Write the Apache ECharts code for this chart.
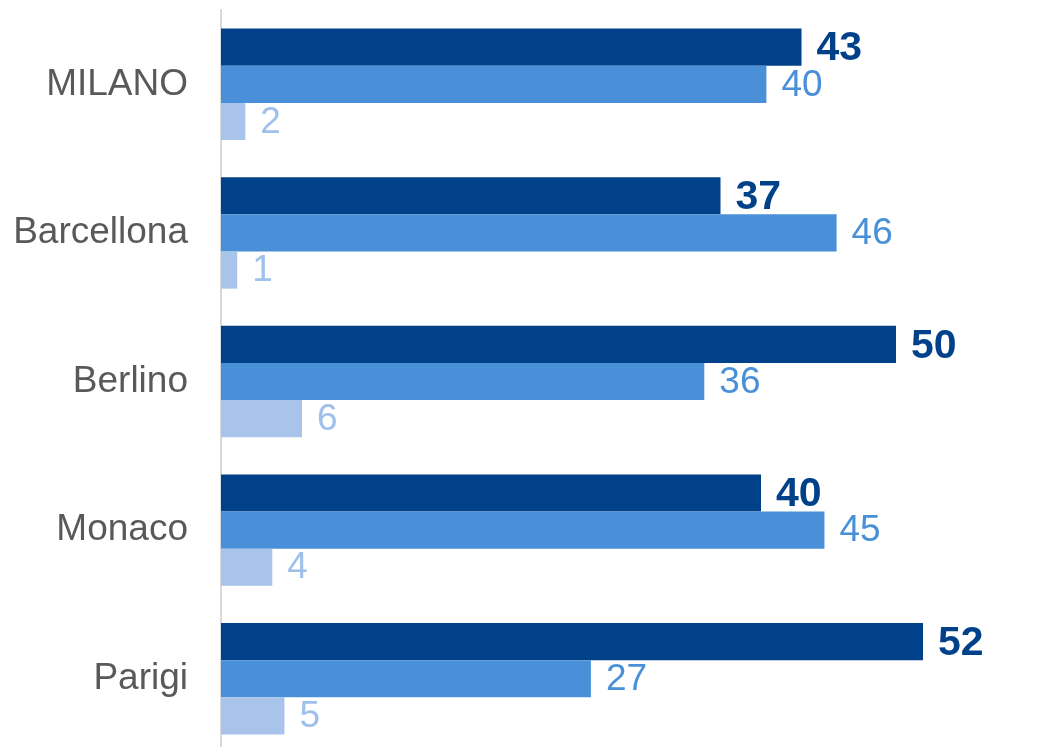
<!DOCTYPE html>
<html>
<head>
<meta charset="utf-8">
<script src="https://cdn.jsdelivr.net/npm/echarts@6/dist/echarts.min.js"></script>
<style>html,body{margin:0;padding:0;background:#fff;}#chart{width:1038px;height:747px;}</style>
</head>
<body>
<div id="chart"></div>
<script>
const categories = ['MILANO', 'Barcellona', 'Berlino', 'Monaco', 'Parigi'];
const seriesDark = [43, 37, 50, 40, 52];
const seriesMid = [40.4, 45.6, 35.8, 44.7, 27.4];
const seriesLight = [1.8, 1.2, 6.0, 3.8, 4.7];

const FONT = '"Liberation Sans", Arial, sans-serif';
const fmt = p => Math.round(p.value);

function bar(name, data, color, labelColor, bold) {
  return {
    name, type: 'bar', data,
    barGap: '0%', barCategoryGap: '25%',
    itemStyle: { color },
    label: {
      show: true, position: 'right', distance: bold ? 15 : 15,
      offset: bold ? [0, 2] : [0, 1],
      formatter: fmt, color: labelColor,
      fontFamily: FONT, fontSize: bold ? 41 : 37, fontWeight: bold ? 'bold' : 'normal'
    },
    animation: false
  };
}

const chart = echarts.init(document.getElementById('chart'));
chart.setOption({
  animation: false,
  grid: { left: 221, width: 810, top: 10, height: 743, containLabel: false, outerBoundsMode: 'none' },
  xAxis: { type: 'value', min: 0, max: 60, show: false },
  yAxis: {
    type: 'category', data: categories, inverse: true,
    axisLine: { show: true, lineStyle: { color: '#d9d9d9', width: 2 } },
    axisTick: { show: false },
    axisLabel: { color: '#595959', fontFamily: FONT, fontSize: 37, margin: 33 }
  },
  series: [
    bar('A', seriesDark, '#004189', '#004189', true),
    bar('B', seriesMid, '#4a90d9', '#4a90d9', false),
    bar('C', seriesLight, '#a9c4ea', '#9ec0ea', false)
  ]
});
</script>
</body>
</html>
